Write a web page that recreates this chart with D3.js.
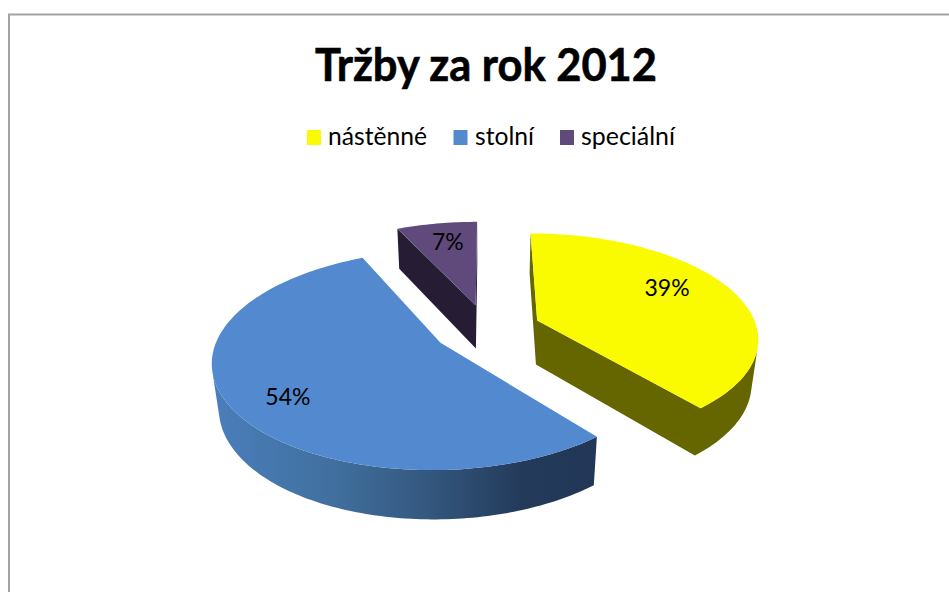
<!DOCTYPE html>
<html lang="cs">
<head>
<meta charset="utf-8">
<title>Tržby za rok 2012</title>
<script src="https://cdn.jsdelivr.net/npm/d3@7/dist/d3.min.js"></script>
<style>
html, body { margin: 0; padding: 0; background: #fff; }
svg { display: block; }
text { font-family: Lato, "Open Sans", sans-serif; fill: #000; }
</style>
</head>
<body>
<svg id="chart" width="949" height="592"></svg>
<script>
// Chart content
const categories = ["nástěnné", "stolní", "speciální"];
const shares = [39, 54, 7];
const chartTitle = "Tržby za rok 2012";

// Colours per category: top face, side wall
const topColors = ["#FAFA00", "#538ACF", "#604A7B"];
const wallColors = ["#666600", "url(#blueWall)", "#261C33"];

// Where each percentage sits on its slice: bearing in degrees, fraction of the radius
const labelBearing = [61, 233, 348.5];
const labelRadius = [0.735, 0.77, 0.76];

// Perspective model of the tilted disc
const view = {
  cx: 487, cy: 329,   // screen position of the pie centre
  radius: 220,
  explode: 54,        // how far each slice is pulled out
  tilt: 0.468,        // vertical squash of the disc plane
  persp: 0.0007,      // scale growth towards the viewer
  drop: 45.5,         // screen height of the side walls
  dropPersp: 0.025    // shrink of the lower rim
};

const svg = d3.select("#chart");
const color = d3.scaleOrdinal(categories, topColors);
const wall = d3.scaleOrdinal(categories, wallColors);

const defs = svg.append("defs");
const grad = defs.append("linearGradient")
  .attr("id", "blueWall")
  .attr("gradientUnits", "userSpaceOnUse")
  .attr("x1", 215).attr("x2", 600).attr("y1", 0).attr("y2", 0);
[[0, "#4A7EBB"], [0.3, "#41709F"], [0.55, "#34587F"], [0.8, "#233A5A"], [1, "#223757"]]
  .forEach(([o, c]) => grad.append("stop").attr("offset", o).attr("stop-color", c));

// Frame of the chart area, cut by the page edge on the right and at the bottom
svg.append("path")
  .attr("d", d3.line()([[9, 592], [9, 14.5], [949, 14.5]]))
  .attr("fill", "none")
  .attr("stroke", "#A3A3A3")
  .attr("stroke-width", 2);

svg.append("text")
  .attr("x", 486).attr("y", 80.5)
  .attr("text-anchor", "middle")
  .attr("font-size", 45)
  .attr("font-weight", 700)
  .attr("stroke", "#000")
  .attr("stroke-width", 0.6)
  .attr("textLength", 342)
  .attr("lengthAdjust", "spacingAndGlyphs")
  .text(chartTitle);

// Legend
const legendX = [307, 453.5, 560];
const legendTextX = [328, 475, 581];
const legendTextW = [99, 59, 94];
const legend = svg.append("g").selectAll("g").data(categories).join("g");
legend.append("rect")
  .attr("x", (d, i) => legendX[i]).attr("y", 130)
  .attr("width", 14).attr("height", 15)
  .attr("fill", d => color(d));
legend.append("text")
  .attr("x", (d, i) => legendTextX[i]).attr("y", 145)
  .attr("font-size", 25)
  .attr("textLength", (d, i) => legendTextW[i])
  .attr("lengthAdjust", "spacingAndGlyphs")
  .text(d => d);

// Slices, clockwise from north
const pie = d3.pie().sort(null)(shares).map((s, i) => ({ ...s, category: categories[i], index: i }));

// Project a disc point (bearing, distance from the slice apex) to the screen
function project(slice, bearing, r, lower) {
  const mid = (slice.startAngle + slice.endAngle) / 2;
  const X = view.explode * Math.sin(mid) + r * Math.sin(bearing);
  const Y = -view.explode * Math.cos(mid) - r * Math.cos(bearing);
  const w = 1 - view.persp * Y + (lower ? view.dropPersp : 0);
  return [
    view.cx + X / w,
    view.cy + (view.tilt * Y + (lower ? view.drop : 0)) / w
  ];
}

const line = d3.line();
function arcAngles(s) {
  const n = Math.max(8, Math.ceil((s.endAngle - s.startAngle) / 0.02));
  return d3.range(n + 1).map(i => s.startAngle + (s.endAngle - s.startAngle) * i / n);
}

// Clockwise outline of a quad, so overlapping pieces of one path fill as a union
const clockwise = q => (d3.polygonArea(q) > 0 ? q : q.slice().reverse());

// Back slices first so that nearer ones overlap them
const order = [2, 0, 1];
const layer = svg.append("g");
order.forEach(i => {
  const s = pie[i];
  const angles = arcAngles(s);
  const g = layer.append("g");

  // Radial cut faces, only those turned towards the viewer
  const cutQuads = [[s.startAngle, 1], [s.endAngle, -1]]
    .map(([a, facing]) => ({
      facing,
      quad: [
        project(s, a, 0, false), project(s, a, view.radius, false),
        project(s, a, view.radius, true), project(s, a, 0, true)
      ]
    }))
    .filter(c => d3.polygonArea(c.quad) * c.facing > 0)
    .map(c => clockwise(c.quad));

  // Outer rim: front-facing quads
  const rimQuads = d3.pairs(angles)
    .map(([a, b]) => [
      project(s, a, view.radius, false), project(s, b, view.radius, false),
      project(s, b, view.radius, true), project(s, a, view.radius, true)
    ])
    .filter(q => d3.polygonArea(q) > 0);

  // All walls of a slice go into one path, which leaves no seams between the pieces
  const walls = cutQuads.concat(rimQuads);
  if (walls.length) {
    g.append("path")
      .attr("d", walls.map(q => line(q) + "Z").join(""))
      .attr("fill", wall(s.category));
  }

  // Top face
  const apex = project(s, 0, 0, false);
  const upper = angles.map(a => project(s, a, view.radius, false));
  g.append("path").attr("d", line([apex].concat(upper)) + "Z").attr("fill", color(s.category));
});

// Percentage labels
svg.append("g").selectAll("text").data(pie).join("text")
  .attr("text-anchor", "middle")
  .attr("dominant-baseline", "central")
  .attr("font-size", 23)
  .attr("transform", d => {
    const p = project(d, labelBearing[d.index] * Math.PI / 180, labelRadius[d.index] * view.radius, false);
    return `translate(${p[0]},${p[1]})`;
  })
  .text(d => `${d.value}%`);
</script>
</body>
</html>
